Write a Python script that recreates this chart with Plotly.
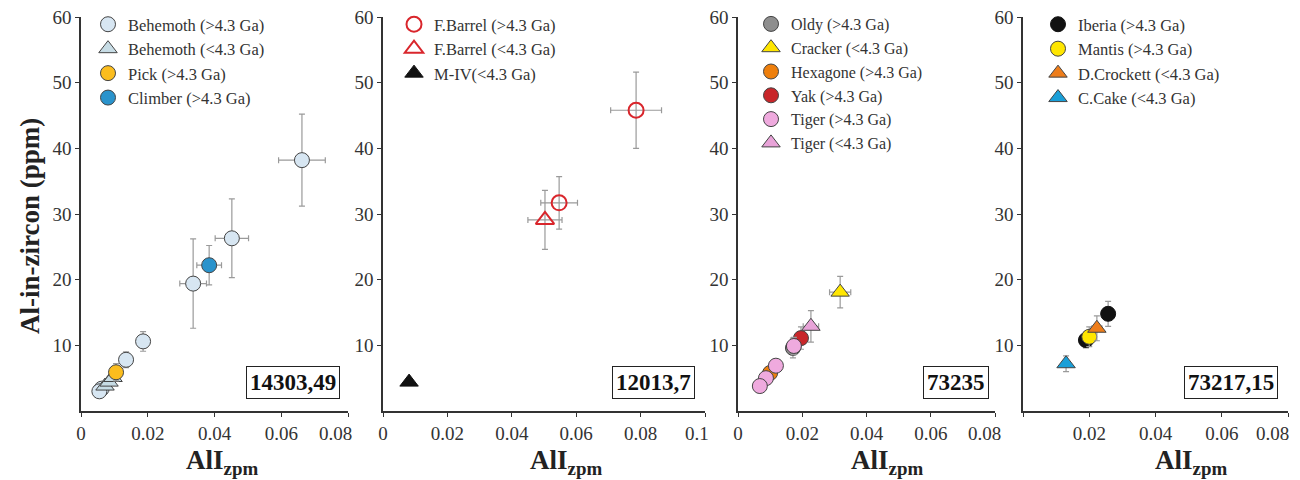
import plotly.graph_objects as go

# ---------------- data ----------------
# Panel 1 : 14303,49
beh_old_x = [0.0662, 0.0452, 0.0336, 0.0186, 0.0135, 0.0062, 0.0055]
beh_old_y = [38.2, 26.3, 19.4, 10.6, 7.8, 3.4, 3.0]
beh_old_ex = [0.007, 0.005, 0.004, 0.001, 0.001, 0.0005, 0.0005]
beh_old_ey = [7.0, 6.0, 6.8, 1.5, 1.2, 0.5, 0.5]
beh_young_x = [0.0072, 0.0084, 0.0096]
beh_young_y = [3.8, 4.4, 5.1]
beh_young_ex = [0.0005, 0.0005, 0.0006]
beh_young_ey = [0.5, 0.6, 0.7]
pick_x = [0.0105]
pick_y = [5.9]
pick_ex = [0.001]
pick_ey = [1.3]
climber_x = [0.0384]
climber_y = [22.2]
climber_ex = [0.0037]
climber_ey = [3.0]

# Panel 2 : 12013,7
fb_old_x = [0.0786, 0.0547]
fb_old_y = [45.8, 31.7]
fb_old_ex = [0.0079, 0.0057]
fb_old_ey = [5.8, 4.0]
fb_young_x = [0.0503]
fb_young_y = [29.1]
fb_young_ex = [0.0053]
fb_young_ey = [4.5]
miv_x = [0.0081]
miv_y = [4.4]

# Panel 3 : 73235
oldy_x = [0.0171]
oldy_y = [9.6]
oldy_ex = [0.0015]
oldy_ey = [1.5]
cracker_x = [0.0318]
cracker_y = [18.1]
cracker_ex = [0.0033]
cracker_ey = [2.4]
hex_x = [0.0100]
hex_y = [5.8]
hex_ex = [0.0008]
hex_ey = [0.6]
yak_x = [0.0196]
yak_y = [11.1]
yak_ex = [0.0015]
yak_ey = [1.7]
tiger_old_x = [0.0174, 0.0118, 0.0087, 0.0068]
tiger_old_y = [9.9, 6.9, 5.0, 3.8]
tiger_old_ex = [0.0012, 0.0008, 0.0006, 0.0005]
tiger_old_ey = [1.3, 0.6, 0.5, 0.4]
tiger_young_x = [0.0227]
tiger_young_y = [12.9]
tiger_young_ex = [0.0024]
tiger_young_ey = [2.4]

# Panel 4 : 73217,15
iberia_x = [0.0257, 0.0190]
iberia_y = [14.8, 10.8]
iberia_ex = [0.0015, 0.001]
iberia_ey = [1.9, 1.2]
mantis_x = [0.0200]
mantis_y = [11.3]
mantis_ex = [0.001]
mantis_ey = [1.5]
dcrock_x = [0.0223]
dcrock_y = [12.6]
dcrock_ex = [0.0015]
dcrock_ey = [1.9]
ccake_x = [0.0130]
ccake_y = [7.2]
ccake_ex = [0.0008]
ccake_ey = [1.2]

sample_labels = ["14303,49", "12013,7", "73235", "73217,15"]
x_ranges = [[0, 0.08], [0, 0.1], [0, 0.08], [0, 0.08]]
x_tickvals = [[0, 0.02, 0.04, 0.06, 0.08], [0, 0.02, 0.04, 0.06, 0.08, 0.1],
              [0, 0.02, 0.04, 0.06, 0.08], [0, 0.02, 0.04, 0.06, 0.08]]
x_ticktext = [["0", "0.02", "0.04", "0.06", "0.08"], ["0", "0.02", "0.04", "0.06", "0.08", "0.1"],
              ["0", "0.02", "0.04", "0.06", "0.08"], ["", "0.02", "0.04", "0.06", "0.08"]]
y_tickvals = [10, 20, 30, 40, 50, 60]

# ---------------- styling ----------------
W, H = 1300, 480
OFF = 8  # page body margin offset
FONT = "Liberation Serif"
ERR = "#9a9a9a"
x_dom_px = [(81, 348), (383, 705), (738, 995), (1023, 1288)]
y_dom_px = (17, 411)
last_label_shift = [-13, -8.5, -11, -16]  # last x tick label sits left of its tick


def fx(px):
    return (px - OFF) / W


def fy(py):
    return 1 - (py - OFF) / H


fig = go.Figure()


def add(panel, name, x, y, ex, ey, symbol, fill, line="#444444", lw=1, size=15):
    sfx = "" if panel == 1 else str(panel)
    fig.add_trace(go.Scatter(
        x=x, y=y, mode="markers", name=name,
        xaxis="x" + sfx, yaxis="y" + sfx, legend="legend" + sfx,
        marker=dict(symbol=symbol, size=size, color=fill, line=dict(color=line, width=lw)),
        error_x=dict(type="data", array=ex, color=ERR, thickness=1.2, width=3, visible=ex is not None),
        error_y=dict(type="data", array=ey, color=ERR, thickness=1.2, width=3, visible=ey is not None),
    ))


add(1, "Behemoth (>4.3 Ga)", beh_old_x, beh_old_y, beh_old_ex, beh_old_ey, "circle", "#d7e6f2")
add(1, "Behemoth (<4.3 Ga)", beh_young_x, beh_young_y, beh_young_ex, beh_young_ey, "triangle-up", "#c7dce5", size=16)
add(1, "Pick (>4.3 Ga)", pick_x, pick_y, pick_ex, pick_ey, "circle", "#fbbd1e")
add(1, "Climber (>4.3 Ga)", climber_x, climber_y, climber_ex, climber_ey, "circle", "#2a93cc")

add(2, "F.Barrel (>4.3 Ga)", fb_old_x, fb_old_y, fb_old_ex, fb_old_ey, "circle-open", "#d9262c", line="#d9262c", lw=2)
add(2, "F.Barrel (<4.3 Ga)", fb_young_x, fb_young_y, fb_young_ex, fb_young_ey, "triangle-up-open", "#d9262c", line="#d9262c", lw=2, size=16)
add(2, "M-IV(<4.3 Ga)", miv_x, miv_y, None, None, "triangle-up", "#111111", line="#111111", size=16)

add(3, "Oldy (>4.3 Ga)", oldy_x, oldy_y, oldy_ex, oldy_ey, "circle", "#8e8e8e")
add(3, "Cracker (<4.3 Ga)", cracker_x, cracker_y, cracker_ex, cracker_ey, "triangle-up", "#ffe600", size=16)
add(3, "Hexagone (>4.3 Ga)", hex_x, hex_y, hex_ex, hex_ey, "circle", "#ee7f0c")
add(3, "Yak (>4.3 Ga)", yak_x, yak_y, yak_ex, yak_ey, "circle", "#c8262a")
add(3, "Tiger (>4.3 Ga)", tiger_old_x, tiger_old_y, tiger_old_ex, tiger_old_ey, "circle", "#efaade")
add(3, "Tiger (<4.3 Ga)", tiger_young_x, tiger_young_y, tiger_young_ex, tiger_young_ey, "triangle-up", "#e8a3d8", size=16)

add(4, "Iberia (>4.3 Ga)", iberia_x, iberia_y, iberia_ex, iberia_ey, "circle", "#111111", line="#111111")
add(4, "Mantis (>4.3 Ga)", mantis_x, mantis_y, mantis_ex, mantis_ey, "circle", "#ffe600")
add(4, "D.Crockett (<4.3 Ga)", dcrock_x, dcrock_y, dcrock_ex, dcrock_ey, "triangle-up", "#ee7d1a", size=16)
add(4, "C.Cake (<4.3 Ga)", ccake_x, ccake_y, ccake_ex, ccake_ey, "triangle-up", "#1a9fd8", size=16)

layout = dict(
    width=W, height=H, margin=dict(l=0, r=0, t=0, b=0, autoexpand=False),
    paper_bgcolor="white", plot_bgcolor="white",
    font=dict(family=FONT, size=18, color="#333333"),
    showlegend=True,
)

# desired on-screen x of the legend symbols (before the fixed symbol inset)
legend_sym_px = [100, 406, 763, 1050]
legend_font = [16.5, 16.5, 16, 16.5]
for i in range(4):
    sfx = "" if i == 0 else str(i + 1)
    x0, x1 = x_dom_px[i]
    ttext = list(x_ticktext[i])
    ttext[-1] = ""  # drawn as a shifted annotation below
    layout["xaxis" + sfx] = dict(
        domain=[fx(x0), fx(x1)], range=x_ranges[i], anchor="y" + sfx,
        tickmode="array", tickvals=x_tickvals[i], ticktext=ttext,
        showline=True, linecolor="#333333", linewidth=1.5, ticks="outside",
        ticklen=4, tickcolor="#333333", showgrid=False, zeroline=False, automargin=False,
        ticklabeloverflow="allow",
        tickfont=dict(family=FONT, size=19, color="#333333"), fixedrange=True,
    )
    layout["yaxis" + sfx] = dict(
        domain=[fy(y_dom_px[1]), fy(y_dom_px[0])], range=[0, 60], anchor="x" + sfx,
        tickmode="array", tickvals=y_tickvals,
        showline=True, linecolor="#333333", linewidth=1.5, ticks="outside",
        ticklen=4, tickcolor="#333333", showgrid=False, zeroline=False, automargin=False,
        ticklabeloverflow="allow",
        tickfont=dict(family=FONT, size=19, color="#333333"), fixedrange=True,
    )
    layout["legend" + sfx] = dict(
        x=fx(legend_sym_px[i] - 12), y=fy(7), xanchor="left", yanchor="top",
        bgcolor="rgba(0,0,0,0)", font=dict(family=FONT, size=legend_font[i], color="#333333"),
        tracegroupgap=0, itemclick=False, itemdoubleclick=False,
    )

fig.update_layout(**layout)

# last x tick labels (offset to the left of their tick, as in the original)
for i in range(4):
    sfx = "" if i == 0 else str(i + 1)
    fig.add_annotation(
        x=x_tickvals[i][-1], xref="x" + sfx, y=fy(433), yref="paper",
        text=x_ticktext[i][-1], showarrow=False, xshift=last_label_shift[i],
        font=dict(family=FONT, size=19, color="#333333"),
        xanchor="center", yanchor="middle",
    )

# boxed sample labels
box_cx = [292.5, 653.5, 955.5, 1230.5]
for i, lab in enumerate(sample_labels):
    fig.add_annotation(
        x=fx(box_cx[i]), y=fy(382.5), xref="paper", yref="paper",
        text="<b>" + lab + "</b>", showarrow=False,
        font=dict(family=FONT, size=23, color="#111111"),
        bordercolor="#222222", borderwidth=1, borderpad=3, bgcolor="white",
        xanchor="center", yanchor="middle",
    )

# x titles
xt_cx = [222, 566, 887, 1191]
for cx in xt_cx:
    fig.add_annotation(
        x=fx(cx), y=fy(462), xref="paper", yref="paper",
        text="<b>AlI<sub>zpm</sub></b>", showarrow=False,
        font=dict(family=FONT, size=27, color="#222222"),
        xanchor="center", yanchor="middle",
    )

# y title
fig.add_annotation(
    x=fx(30), y=fy(226), xref="paper", yref="paper",
    text="<b>Al-in-zircon (ppm)</b>", showarrow=False, textangle=-90,
    font=dict(family=FONT, size=27, color="#222222"),
    xanchor="center", yanchor="middle",
)

fig.write_html("out.html")
